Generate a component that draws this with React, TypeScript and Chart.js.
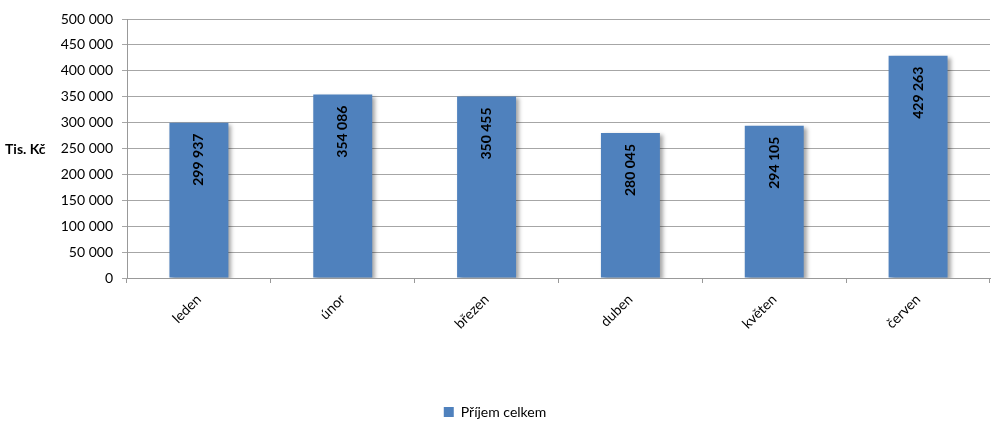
import React, { useEffect, useRef } from "react";
import { Chart, registerables } from "chart.js";

Chart.register(...registerables);

const categories = ["leden", "únor", "březen", "duben", "květen", "červen"];
const values = [299937, 354086, 350455, 280045, 294105, 429263];
const seriesName = "Příjem celkem";
const yTitle = "Tis. Kč";

const FONT = "Lato, 'Open Sans', sans-serif";

const fmt = (v: number) => String(Math.round(v)).replace(/\B(?=(\d{3})+(?!\d))/g, " ");

const barShadow = {
  id: "barShadow",
  beforeDatasetsDraw(chart: any) {
    const ctx = chart.ctx;
    ctx.save();
    ctx.shadowColor = "rgba(0,0,0,0.35)";
    ctx.shadowOffsetX = 3;
    ctx.shadowOffsetY = 2;
    ctx.shadowBlur = 4;
  },
  afterDatasetsDraw(chart: any) {
    chart.ctx.restore();
  },
};

const valueLabels = {
  id: "valueLabels",
  afterDatasetsDraw(chart: any) {
    const ctx = chart.ctx;
    const meta = chart.getDatasetMeta(0);
    ctx.save();
    ctx.font = `bold 14px ${FONT}`;
    ctx.fillStyle = "#000";
    meta.data.forEach((bar: any, i: number) => {
      ctx.save();
      ctx.translate(bar.x, bar.y + 11);
      ctx.rotate(-Math.PI / 2);
      ctx.textAlign = "right";
      ctx.textBaseline = "middle";
      ctx.fillText(fmt(values[i]), 0, 0);
      ctx.restore();
    });
    ctx.restore();
  },
};

const yTitlePlugin = {
  id: "yTitlePlugin",
  afterDraw(chart: any) {
    const ctx = chart.ctx;
    const area = chart.chartArea;
    ctx.save();
    ctx.font = `bold 14px ${FONT}`;
    ctx.fillStyle = "#000";
    ctx.textAlign = "left";
    ctx.textBaseline = "middle";
    ctx.fillText(yTitle, 5, (area.top + area.bottom) / 2 + 1);
    ctx.restore();
  },
};

export default function App() {
  const ref = useRef<HTMLCanvasElement>(null);
  useEffect(() => {
    if (!ref.current) return;
    const chart = new Chart(ref.current, {
      type: "bar",
      data: {
        labels: categories,
        datasets: [
          {
            label: seriesName,
            data: values,
            backgroundColor: "#4F81BD",
            borderWidth: 0,
            barPercentage: 0.41,
            categoryPercentage: 1,
          },
        ],
      },
      options: {
        animation: false,
        responsive: true,
        maintainAspectRatio: false,
        layout: { padding: { top: 19, right: 1, left: 0, bottom: -5 } },
        plugins: {
          tooltip: { enabled: false },
          legend: {
            position: "bottom",
            labels: {
              boxWidth: 10,
              boxHeight: 10,
              padding: 2,
              color: "#000",
              font: { family: FONT, size: 14 },
            },
          },
        },
        scales: {
          x: {
            grid: {
              drawOnChartArea: false,
              drawTicks: true,
              tickLength: 5,
              offset: true,
              color: "#999",
            },
            border: { color: "#999" },
            ticks: {
              color: "#000",
              maxRotation: 45,
              minRotation: 45,
              font: { family: FONT, size: 14 },
              padding: 8,
            },
            afterFit(scale: any) {
              scale.height = 125;
            },
          },
          y: {
            min: 0,
            max: 500000,
            grid: { color: "#a6a6a6", tickLength: 5, drawTicks: true },
            border: { color: "#999" },
            ticks: {
              stepSize: 50000,
              color: "#000",
              font: { family: FONT, size: 14 },
              padding: 9,
              callback: (v: any) => fmt(Number(v)),
            },
            afterFit(scale: any) {
              scale.width = 127;
            },
          },
        },
      },
      plugins: [barShadow, valueLabels, yTitlePlugin],
    });
    return () => chart.destroy();
  }, []);
  return (
    <div style={{ position: "fixed", left: 0, top: 0, width: 991, height: 424, background: "#fff" }}>
      <canvas ref={ref} />
    </div>
  );
}
